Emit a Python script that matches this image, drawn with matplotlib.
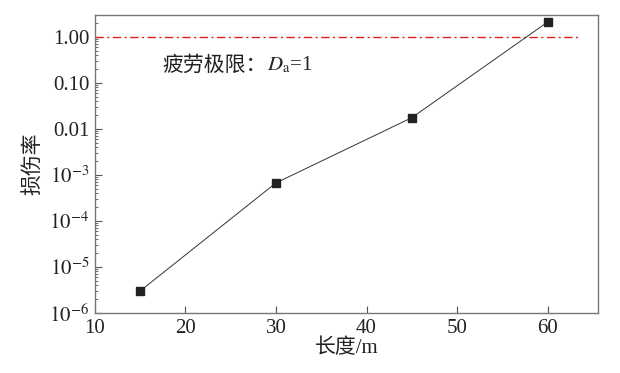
import matplotlib
matplotlib.use('Agg')
import matplotlib.pyplot as plt
import numpy as np
from matplotlib.ticker import FixedLocator, FixedFormatter, LogLocator, NullFormatter

plt.rcParams['font.family'] = ['Liberation Serif', 'Noto Sans CJK SC']
plt.rcParams['mathtext.fontset'] = 'stix'

# data
lengths = [15, 30, 45, 60]
damage = [3.0e-6, 6.7e-4, 1.75e-2, 2.1]
limit = 1.0
x_ticks = [10, 20, 30, 40, 50, 60]
y_ticks = [1e-6, 1e-5, 1e-4, 1e-3, 1e-2, 1e-1, 1]
y_labels = [r'$10^{-6}$', r'$10^{-5}$', r'$10^{-4}$', r'$10^{-3}$', '0.01', '0.10', '1.00']

fig = plt.figure(figsize=(6.2, 3.73), dpi=100)
ax = fig.add_axes([0.153, 0.161, 0.812, 0.799])

ax.plot([10, 63.4], [limit, limit], color='#e02020', linestyle='-.', linewidth=1.0, dashes=(6, 2.5, 1.5, 2.5))
ax.plot(lengths, damage, color='#333333', linewidth=0.7, marker='s',
        markersize=5.5, markerfacecolor='#222222', markeredgecolor='#222222')

ax.set_yscale('log')
ax.set_xlim(10, 65.6)
ax.set_ylim(1e-6, 3.0)

ax.xaxis.set_major_locator(FixedLocator(x_ticks))
ax.yaxis.set_major_locator(FixedLocator(y_ticks))
ax.yaxis.set_major_formatter(FixedFormatter(y_labels))
ax.yaxis.set_minor_locator(LogLocator(base=10, subs=np.arange(2, 10), numticks=20))
ax.yaxis.set_minor_formatter(NullFormatter())

ax.tick_params(axis='both', which='major', direction='in', length=5, width=0.8,
               color='#555555', labelsize=15, labelcolor='#222222', pad=4)
ax.tick_params(axis='y', which='minor', direction='in', length=2.5, width=0.6, color='#555555')
for s in ax.spines.values():
    s.set_color('#777777')
    s.set_linewidth(1.0)

ax.set_xlabel('长度/m', fontsize=15, color='#222222', labelpad=1)
ax.set_ylabel('损伤率', fontsize=15, color='#222222', labelpad=4)

t = ax.text(17.5, 0.245, '疲劳极限：', fontsize=15, color='#222222',
            va='center', ha='left', family=['Noto Sans CJK SC'])
ax.annotate(r'$D_{\rm a}$=1', xy=(1, 0.5), xycoords=t, fontsize=15, color='#222222',
            va='center', ha='left')

fig.savefig('out.png', dpi=100)
